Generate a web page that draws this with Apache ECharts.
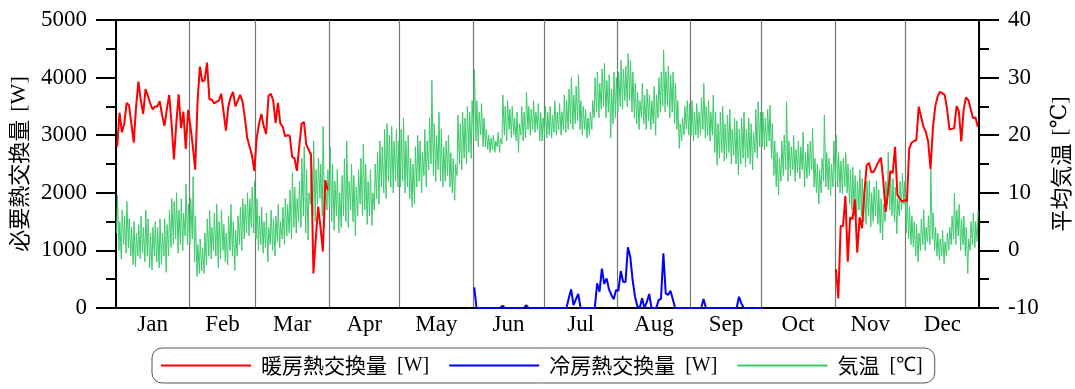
<!DOCTYPE html>
<html><head><meta charset="utf-8">
<script src="https://cdn.jsdelivr.net/npm/echarts@6/dist/echarts.min.js"></script>
<style>html,body{margin:0;padding:0;background:#fff}#c{width:1075px;height:389px}</style>
</head><body><div id="c"></div>
<script>
const months = ['Jan','Feb','Mar','Apr','May','Jun','Jul','Aug','Sep','Oct','Nov','Dec'];
const monthDays = [31,28,31,30,31,30,31,31,30,31,30,31];
const leftTicks = [0,1000,2000,3000,4000,5000];
const rightTicks = [-10,0,10,20,30,40];

// daily heating heat-exchange [W], Jan 1 (day 0) .. Mar 31 (day 89)
const heatJanMarStart = 0;
const heatJanMar = [
2800,3390,3050,3200,3560,3520,3200,2870,3500,3930,
3600,3370,3800,3680,3550,3450,3500,3500,3590,3350,
3160,3450,3700,3200,2580,3200,3710,3120,3410,2760,
3440,3150,2800,2400,3600,4190,3930,3960,4260,3620,
3620,3550,3580,3600,3720,3400,3080,3500,3660,3750,
3500,3600,3700,3590,3300,2950,2800,2650,2380,2950,
3200,3370,3150,3020,3680,3720,3600,3210,3560,3200,
3150,2980,3000,2990,2620,2600,2380,2800,3200,3230,
2830,2750,2650,600,1200,1760,1400,980,2220,2050];

// daily heating heat-exchange [W], Nov 1 (day 304) .. Dec 31 (day 364)
const heatNovDecStart = 304;
const heatNovDec = [
672,168,1424,1424,1944,804,1575,1540,1887,960,
1575,1384,1990,2480,2520,2350,2370,2450,2540,2610,
2220,1670,2000,2380,2340,2800,1960,1900,1845,1875,
1845,2772,2870,2900,2917,3495,3320,3150,3060,2890,
2410,3120,3500,3670,3755,3727,3700,3450,3100,3110,
3120,3507,3410,2890,3440,3657,3610,3450,3293,3310,
3148];

// daily cooling heat-exchange [W], Jun 1 (day 151) .. Sep 30 (day 273)
const coolingStart = 151;
const cooling = [
360,0,0,0,0,0,0,0,0,0,0,0,40,0,0,0,0,0,0,0,0,0,52,
0,0,0,0,0,0,0,0,0,0,0,0,0,0,0,0,0,
170,324,52,150,243,0,0,0,0,0,0,0,
428,283,683,417,515,324,230,151,312,300,
642,457,450,1054,891,486,200,35,0,168,
0,100,243,0,0,0,139,160,950,255,
226,300,150,
0,0,0,0,0,0,0,0,0,0,0,0,156,
0,0,0,0,0,0,0,0,0,0,0,0,0,0,196,80,
0,0,0,0,0,0,0,0,0];

// daily low / high air temperature [°C], day 0 .. 364
const tempLow = [
3,0,-1.5,1,-0.5,0.5,-1,-2.5,-2.8,-1,-1.5,-0.5,-2,-1,-3,-3.4,-1,-2,-3,-2.5,-1,-3.8,-1,0.5,1,2,-0.5,1,0,2.5,1,
1,2,-2,-4.5,-4,-3.5,-4,-2.5,-1,-1.5,0,-1,-3,-1.5,0,-2,-2.5,0,-1,-3.5,-1,1,0,2,3,2.5,4,3,
2,0,1,-0.5,0.5,-2,1,0,-1,1.5,0.5,2,1,2.5,3,2,4,3,5,4,6,3,1.8,8,6,5,8,9,6,4,7,
8,5,3.5,6,3,4,6,5,4,7,5,2.5,6,8,6,7,4.5,6,4.3,7,9,8,11,10,9,12,11,10,12,11,
11,12,10,11,9,7.5,8,11,12,10,13,11,14,15,13,12,14,12,11,12,13,11,10,8.7,13,15,14,16,15,17,16,
20,19,18,20,18,18,17.5,17,17.5,17,18,17,18.5,20,19,21,19.5,20,19,17,20,19,19.5,21,20,21,20.5,21,19,19,
20,19.5,20,19.5,20.5,20,21,20,21,20.5,21,22,21,22,22.5,21,20,21,19.5,20,21,23,24,23,24.5,25,23,24,19.5,22,23,
24,25,24.5,26,25,26,24,23,22,21,23,22,21,22.5,21,22,20,23,24,25,24,25,23,24,22,21,17.7,19,20,21,20,
20,19,20,19.5,20,21,19.5,20,19,20,17,14.8,16,17,15.5,16,17,15,16.5,15,13.1,15,16,14.5,16,15,14,17,16,18,
18,17.5,18,19,16,13,11,9.6,12,13,14,12,13,14,12,13.5,12.5,14,11,12.5,13,14,11,10,8.1,10,12,11,10.5,9.5,11,
12,11,10,9.9,11,10,8,7,6,5.8,7,6,5,4.5,6,4.1,5,6,4.5,3,1.8,5,8,7,6,5,2.9,6,7,8,
3,2,1,0.6,-1,-2,0,1,0,1.5,1,2,0,-1,-1.7,-1,-2.3,-1,0,1,2,1,2.5,0,1,-1,-4,0,1,0.5,1.5];
const tempHigh = [
9.5,5,7,6,8.5,5.5,4,5,3,4.5,6,4,7,5.5,3,4,5,4,5.5,3,5.5,4.5,7,9,8.5,10,7,9,6.5,11.5,8,
9,12.8,6,1,2,0.5,3,5.5,7,4,6.5,8,5,7,4.5,3,6,8,5,3.5,6,7.5,9,8,10,9,11,12,
9,6,7.5,5,6.5,4,7,5.5,6,8,5,7.5,9,8,10.5,13.5,11,9,12,16,18,14,10,17,19,14,16,15,21.5,12,14,
18,15,12,14,10,13,16,19,12,15,13,11,14,16,18.5,15,12,14,10,15,17,19,18,21,22,20,21.5,19,21,19,
21,23,19,20,16,15,18,20,19,17,21,19,23,29.5,22,20,24,21,18,19,20,17,16,15,23.5,22,24,23,25,24,26,
31.5,26,24,25.5,23,21,20,19.5,20,19,20.5,19.5,27,25,26,24.5,25,23,24,22,25,24,27.5,25,24.5,26,24,25.5,24,23,
25,24,25,23.5,26,24,25.5,24,27,26,28,30,27,28.5,30.5,26,25,24.5,23,24,26,30,31,29,31.5,32.5,29.5,30.5,28,31,30,
31,33,31.5,32,34.2,33,31,29,27.5,26,29,27,28,27,26,28.5,27,30,31,34.8,31,32,30.5,31,29,26,22,23,25,26,25.5,
26,24,25.5,24,26.5,29,25,26,24,27,24,22,24,25,22,23.5,24.5,21,23,22.5,21,23,24,21,23,22,20.5,24.5,25.8,24,
24,23,24.5,25.2,22,19,17,16,19,20,25.8,19,18,20,17.5,19,18,20.5,17,18.5,19,21.2,16,15,14,16,23.5,17,16,15,19,
20,17,15.5,16,17,15,14,14.5,13,12,14,12.5,11,12,12.2,10,11,12,10.5,9,8,12,17,13,12.5,11,9,12,13.4,12,
9,7.6,6,5,4.5,3,5.5,7,4,6,14,6.5,4,3,2,3.5,1.5,3,4,6,9.9,7,8,5.5,6,4,2,5,6.5,5,7];

const seriesNames = ['暖房熱交換量 [W]', '冷房熱交換量 [W]', '気温 [℃]'];

// ---- build
const bounds = [0];
monthDays.forEach(d => bounds.push(bounds[bounds.length - 1] + d));
const mids = months.map((m, i) => (bounds[i] + bounds[i + 1]) / 2);

const heatData = heatJanMar.map((v, i) => [heatJanMarStart + i + 0.5, v])
  .concat([[200, '-']])
  .concat(heatNovDec.map((v, i) => [heatNovDecStart + i + 0.5, v]));
const coolData = cooling.map((v, i) => [coolingStart + i + 0.5, v]);
const tempData = [];
tempLow.forEach((lo, i) => { tempData.push([i + 0.25, lo]); tempData.push([i + 0.6, tempHigh[i]]); });

const serif = 'Liberation Serif, Times New Roman, serif';
const cjk = 'Noto Sans CJK JP, sans-serif';

const chart = echarts.init(document.getElementById('c'), null, {renderer: 'canvas'});
chart.setOption({
  animation: false,
  backgroundColor: '#fff',
  grid: {left: 116, right: 96, top: 20, bottom: 81, show: true, borderColor: '#000', borderWidth: 2,
         backgroundColor: 'transparent', outerBoundsMode: 'none', containLabel: false},
  legend: {
    left: 152, top: 348,
    itemWidth: 90, itemHeight: 14, itemGap: 19,
    padding: [7, 12, 7, 8],
    borderColor: '#555', borderWidth: 1, borderRadius: 10,
    itemStyle: {opacity: 0},
    data: [seriesNames[0], seriesNames[1], seriesNames[2]],
    formatter: name => {
      const i = name.indexOf(' ');
      return '{c|' + name.slice(0, i) + '}{s|' + name.slice(i + 1) + '}';
    },
    textStyle: {
      padding: [0, 0, 0, 5],
      rich: {
        c: {fontFamily: cjk, fontSize: 21, color: '#000'},
        s: {fontFamily: serif, fontSize: 20, color: '#000', padding: [0, 0, 0, 10]}
      }
    }
  },
  xAxis: {
    type: 'value', min: 0, max: 365,
    axisLine: {show: true, lineStyle: {color: '#000', width: 2}},
    axisTick: {show: false, customValues: bounds},
    splitLine: {show: true, lineStyle: {color: '#777', width: 1.2}},
    axisLabel: {
      customValues: mids,
      formatter: v => { const k = mids.findIndex(m => Math.abs(m - v) < 0.01); return k >= 0 ? months[k] : ''; },
      fontFamily: serif, fontSize: 23, color: '#000', margin: 5
    }
  },
  yAxis: [{
    type: 'value', min: leftTicks[0], max: leftTicks[leftTicks.length - 1], interval: 1000,
    position: 'left',
    name: '{c|必要熱交換量}{s|[W]}',
    nameLocation: 'middle', nameGap: 77,
    nameTextStyle: {rich: {c: {fontFamily: cjk, fontSize: 22, color: '#000'}, s: {fontFamily: serif, fontSize: 22, color: '#000', padding: [0, 0, 0, 8]}}},
    axisLine: {show: true, lineStyle: {color: '#000', width: 2}},
    axisTick: {show: true, inside: false, length: 20, lineStyle: {color: '#000', width: 2}},
    minorTick: {show: true, splitNumber: 2, length: 10, lineStyle: {color: '#000', width: 2}},
    splitLine: {show: false},
    axisLabel: {fontFamily: serif, fontSize: 23, color: '#000', margin: 29, formatter: v => String(v)}
  }, {
    type: 'value', min: rightTicks[0], max: rightTicks[rightTicks.length - 1], interval: 10,
    position: 'right',
    name: '{c|平均気温}{s|[℃]}',
    nameLocation: 'middle', nameGap: 69,
    nameTextStyle: {rich: {c: {fontFamily: cjk, fontSize: 22, color: '#000'}, s: {fontFamily: serif + ', DejaVu Serif', fontSize: 22, color: '#000', padding: [0, 0, 0, 8]}}},
    axisLine: {show: true, lineStyle: {color: '#000', width: 2}},
    axisTick: {show: true, inside: false, length: 20, lineStyle: {color: '#000', width: 2}},
    minorTick: {show: true, splitNumber: 2, length: 10, lineStyle: {color: '#000', width: 2}},
    splitLine: {show: false},
    axisLabel: {fontFamily: serif, fontSize: 23, color: '#000', margin: 29, formatter: v => String(v)}
  }],
  series: [{
    name: seriesNames[2], type: 'line', yAxisIndex: 1, data: tempData,
    symbol: 'none', lineStyle: {color: '#3acb6a', width: 1}, itemStyle: {color: '#3acb6a'}
  }, {
    name: seriesNames[1], type: 'line', yAxisIndex: 0, data: coolData,
    symbol: 'none', lineStyle: {color: '#0000ff', width: 2}, itemStyle: {color: '#0000ff'}
  }, {
    name: seriesNames[0], type: 'line', yAxisIndex: 0, data: heatData, connectNulls: false,
    symbol: 'none', lineStyle: {color: '#ff0000', width: 2}, itemStyle: {color: '#ff0000'}
  }]
});
</script></body></html>
